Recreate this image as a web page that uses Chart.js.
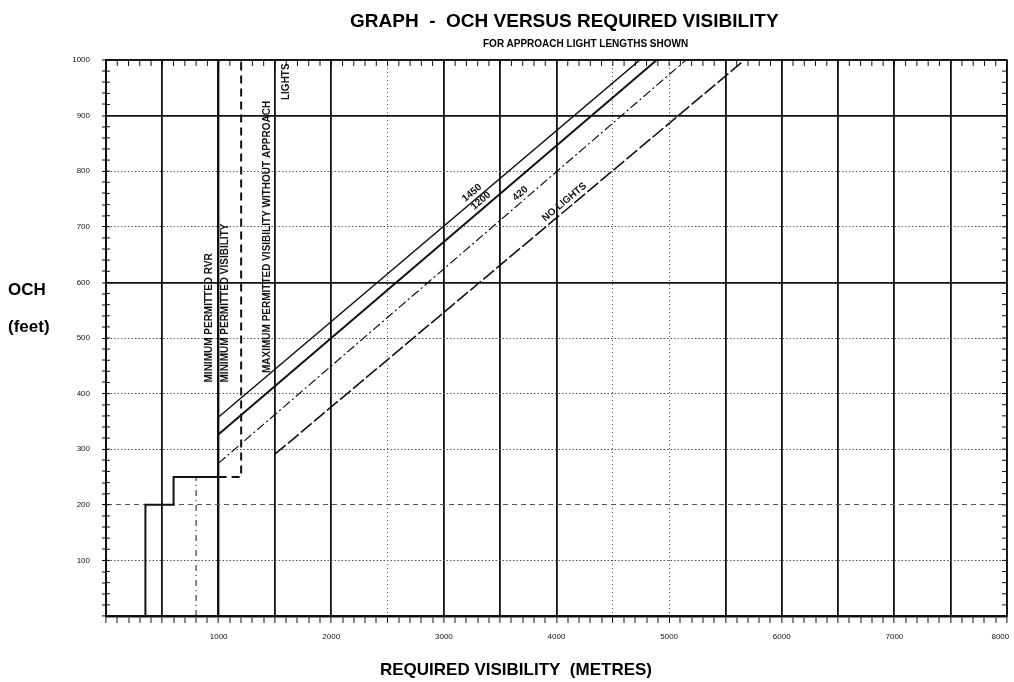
<!DOCTYPE html>
<html>
<head>
<meta charset="utf-8">
<title>OCH versus required visibility</title>
<script src="https://cdn.jsdelivr.net/npm/chart.js@4.4.0/dist/chart.umd.min.js"></script>
<style>
  body { margin: 0; background: #fff; }
  #wrap { position: relative; width: 1014px; height: 682px; font-family: "Liberation Sans", Arial, sans-serif; color: #000; }
  #wrap canvas { position: absolute; left: 0; top: 0; }
  .txt { position: absolute; font-weight: bold; white-space: nowrap; line-height: 1; }
  #title { left: 350px; top: 11px; font-size: 19px; }
  #subtitle { left: 483px; top: 39px; font-size: 10px; }
  #och { left: 8px; top: 281px; font-size: 17px; }
  #feet { left: 8px; top: 318px; font-size: 17px; }
  #xtitle { left: 380px; top: 661px; font-size: 17px; }
</style>
</head>
<body>
<div id="wrap">
  <canvas id="chart" width="1014" height="682"></canvas>
  <div class="txt" id="title">GRAPH&nbsp;&nbsp;-&nbsp;&nbsp;OCH VERSUS REQUIRED VISIBILITY</div>
  <div class="txt" id="subtitle">FOR APPROACH LIGHT LENGTHS SHOWN</div>
  <div class="txt" id="och">OCH</div>
  <div class="txt" id="feet">(feet)</div>
  <div class="txt" id="xtitle">REQUIRED VISIBILITY&nbsp;&nbsp;(METRES)</div>
</div>
<script>
// tick labels
const xTickLabels = [1000, 2000, 3000, 4000, 5000, 6000, 7000, 8000];
const yTickLabels = [100, 200, 300, 400, 500, 600, 700, 800, 900, 1000];

// sloping lines, one per approach light length (visibility m, OCH ft)
const lightLabels = ['1450', '1200', '420', 'NO LIGHTS'];
const lightStartVis = [1000, 1000, 1000, 1500];
const lightStartOch = [358, 327, 275, 291];
const lightEndVis = [4740, 4890, 5150, 5670];
const lightEndOch = [1000, 1000, 1000, 1000];
const lightLabelVis = [3290, 3370, 3720, 4110];

// lower limit steps
const stepVis = [350, 350, 600, 600, 1000];
const stepOch = [0, 200, 200, 250, 250];
const minVisVis = [1000, 1200, 1200];
const minVisOch = [250, 250, 1000];
const markVis = [800, 800];
const markOch = [0, 250];

// vertical notes
const noteTexts = ['MINIMUM PERMITTED RVR', 'MINIMUM PERMITTED VISIBILITY',
  'MAXIMUM PERMITTED VISIBILITY WITHOUT APPROACH', 'LIGHTS'];
const noteVis = [1000, 1000, 1500, 1500];
const noteOch = [420, 420, 437, 928];

// which grid lines are dotted / dashed
const xDotted = [2500, 4500, 5000];
const yDotted = [100, 300, 400, 500, 700, 800];
const yDashed = [200];

const FONT = '"Liberation Sans", Arial, sans-serif';
const INK = '#111';

function pts(xs, ys) {
  return xs.map((v, i) => ({ x: v, y: ys[i] }));
}

const lightStyles = [
  { borderWidth: 1.5, borderDash: [] },
  { borderWidth: 2, borderDash: [] },
  { borderWidth: 1.2, borderDash: [9, 3, 2, 3] },
  { borderWidth: 1.6, borderDash: [14, 3] }
];

const datasets = lightLabels.map((lab, i) => Object.assign({
  label: lab,
  data: pts([lightStartVis[i], lightEndVis[i]], [lightStartOch[i], lightEndOch[i]])
}, lightStyles[i]));

datasets.push({ label: 'step', data: pts(stepVis, stepOch), borderWidth: 2, borderDash: [] });
datasets.push({ label: 'min vis', data: pts(minVisVis, minVisOch), borderWidth: 2, borderDash: [8, 5] });
datasets.push({ label: 'mark', data: pts(markVis, markOch), borderWidth: 1, borderDash: [6, 4, 1, 4] });

datasets.forEach(d => {
  d.borderColor = INK;
  d.pointRadius = 0;
  d.fill = false;
  d.tension = 0;
});

// grid helpers
function xKind(v) {
  if (v % 500 !== 0) return null;
  return xDotted.includes(v) ? 'dot' : 'solid';
}
function yKind(v) {
  if (v % 100 !== 0) return null;
  if (yDashed.includes(v)) return 'dash';
  return yDotted.includes(v) ? 'dot' : 'solid';
}

const decorations = {
  id: 'decorations',
  afterDatasetsDraw(chart) {
    const { ctx, chartArea: a, scales: { x, y } } = chart;
    ctx.save();
    ctx.strokeStyle = INK;
    ctx.lineWidth = 1;
    ctx.setLineDash([]);

    // inner ticks on top, left and right borders
    ctx.beginPath();
    x.ticks.forEach(t => {
      const px = x.getPixelForValue(t.value);
      ctx.moveTo(px, a.top);
      ctx.lineTo(px, a.top + 6);
    });
    y.ticks.forEach(t => {
      const py = y.getPixelForValue(t.value);
      ctx.moveTo(a.left, py);
      ctx.lineTo(a.left + 4, py);
      ctx.moveTo(a.right, py);
      ctx.lineTo(a.right - 5, py);
    });
    ctx.stroke();

    // border on top and right
    ctx.lineWidth = 1.5;
    ctx.beginPath();
    ctx.moveTo(a.left, a.top);
    ctx.lineTo(a.right, a.top);
    ctx.lineTo(a.right, a.bottom);
    ctx.stroke();

    // vertical notes
    const noteShift = [-9, 7, -8, 11];
    ctx.fillStyle = INK;
    ctx.font = 'bold 10px ' + FONT;
    ctx.textAlign = 'left';
    ctx.textBaseline = 'middle';
    noteTexts.forEach((txt, i) => {
      ctx.save();
      ctx.translate(x.getPixelForValue(noteVis[i]) + noteShift[i], y.getPixelForValue(noteOch[i]));
      ctx.rotate(-Math.PI / 2);
      ctx.fillText(txt, 0, 0);
      ctx.restore();
    });

    // labels along the sloping lines
    ctx.font = 'bold 10px ' + FONT;
    ctx.textAlign = 'center';
    ctx.textBaseline = 'bottom';
    lightLabels.forEach((lab, i) => {
      const x0 = x.getPixelForValue(lightStartVis[i]);
      const y0 = y.getPixelForValue(lightStartOch[i]);
      const x1 = x.getPixelForValue(lightEndVis[i]);
      const y1 = y.getPixelForValue(lightEndOch[i]);
      const f = (lightLabelVis[i] - lightStartVis[i]) / (lightEndVis[i] - lightStartVis[i]);
      const och = lightStartOch[i] + f * (lightEndOch[i] - lightStartOch[i]);
      ctx.save();
      ctx.translate(x.getPixelForValue(lightLabelVis[i]), y.getPixelForValue(och));
      ctx.rotate(Math.atan2(y1 - y0, x1 - x0));
      ctx.fillText(lab, 0, -2);
      ctx.restore();
    });
    ctx.restore();
  }
};

new Chart(document.getElementById('chart'), {
  type: 'line',
  data: { datasets: datasets },
  options: {
    responsive: false,
    animation: false,
    events: [],
    layout: { padding: { top: 60, right: 7, left: 0, bottom: 0 } },
    plugins: { legend: { display: false }, tooltip: { enabled: false }, title: { display: false } },
    scales: {
      x: {
        type: 'linear',
        min: 0,
        max: 8000,
        afterBuildTicks: s => {
          const t = [];
          for (let v = 0; v <= 8000; v += 100) t.push({ value: v });
          s.ticks = t;
        },
        afterFit: s => {
          s.height = 66;
          s.paddingLeft = 0;
          s.paddingRight = 0;
        },
        ticks: {
          autoSkip: false,
          maxRotation: 0,
          padding: 9,
          color: INK,
          font: { family: FONT, size: 8 },
          callback: (v, i, all) => {
            if (!xTickLabels.includes(v)) return '';
            // keep the last label inside the canvas
            return i === all.length - 1 ? v + '\u2007\u2007\u2007' : String(v);
          }
        },
        grid: {
          color: c => c.tick && xKind(c.tick.value) ? (xKind(c.tick.value) === 'dot' ? '#555' : INK) : 'rgba(0,0,0,0)',
          lineWidth: c => {
            if (!c.tick) return 1;
            const k = xKind(c.tick.value);
            if (!k) return 0;
            if (c.tick.value === 1000) return 2.4;
            return k === 'dot' ? 1 : 1.8;
          },
          tickLength: 7,
          tickColor: INK,
          tickWidth: 1
        },
        border: {
          color: INK,
          width: 2.5,
          dash: c => (c.tick && xKind(c.tick.value) === 'dot') ? [1, 3] : []
        }
      },
      y: {
        min: 0,
        max: 1000,
        afterBuildTicks: s => {
          const t = [];
          for (let v = 0; v <= 1000; v += 20) t.push({ value: v });
          s.ticks = t;
        },
        afterFit: s => {
          s.width = 106;
          s.paddingTop = 0;
          s.paddingBottom = 0;
        },
        ticks: {
          autoSkip: false,
          padding: 12,
          color: INK,
          font: { family: FONT, size: 8 },
          callback: v => yTickLabels.includes(v) ? String(v) : ''
        },
        grid: {
          color: c => {
            if (!c.tick) return INK;
            const k = yKind(c.tick.value);
            if (!k) return 'rgba(0,0,0,0)';
            return k === 'solid' ? INK : '#555';
          },
          lineWidth: c => {
            if (!c.tick) return 1;
            const k = yKind(c.tick.value);
            if (!k) return 0;
            return k === 'solid' ? 1.8 : 1;
          },
          tickLength: 4,
          tickColor: INK,
          tickWidth: 1
        },
        border: {
          color: INK,
          width: 2,
          dash: c => {
            if (!c.tick) return [];
            const k = yKind(c.tick.value);
            if (k === 'dot') return [1.5, 2];
            if (k === 'dash') return [5, 4];
            return [];
          }
        }
      }
    }
  },
  plugins: [decorations]
});
</script>
</body>
</html>
